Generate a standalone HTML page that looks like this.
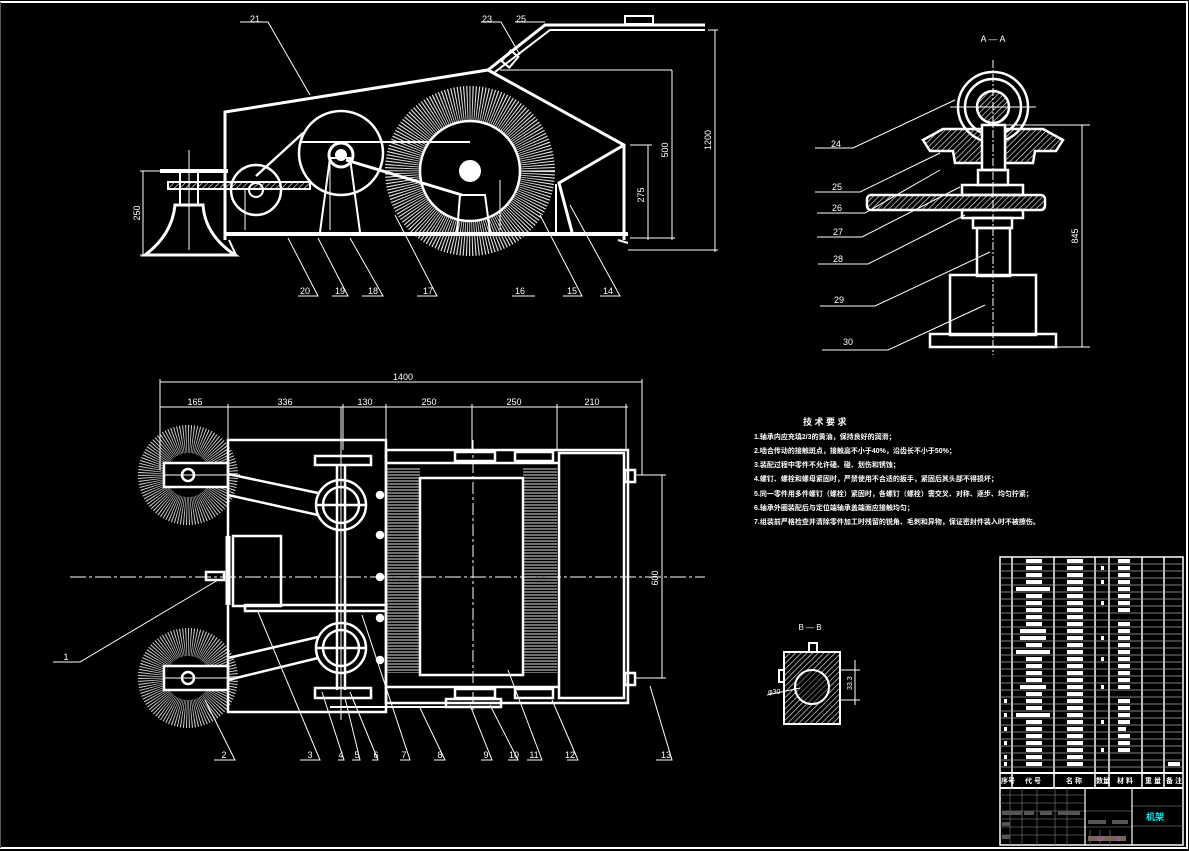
<!DOCTYPE html>
<html><head><meta charset="utf-8"><style>
html,body{margin:0;padding:0;background:#000;width:1189px;height:851px;overflow:hidden}
svg{display:block}
text{font-family:"Liberation Sans","Noto Sans CJK SC",sans-serif;fill:#fff}
</style></head><body>
<svg width="1189" height="851" viewBox="0 0 1189 851" xmlns="http://www.w3.org/2000/svg">
<defs>
<pattern id="hat" width="4" height="4" patternUnits="userSpaceOnUse" patternTransform="rotate(45)"><line x1="0" y1="0" x2="0" y2="4" stroke="#fff" stroke-width="1.2"/></pattern>
<pattern id="hz" width="4" height="3" patternUnits="userSpaceOnUse"><line x1="0" y1="1" x2="4" y2="1" stroke="#ddd" stroke-width="1"/></pattern>
</defs>
<rect width="1189" height="851" fill="#000"/>
<polyline points="0,2 1187,2 1187,848 0,848" fill="none" stroke="#fff" stroke-width="2"/>
<line x1="0.5" y1="2" x2="0.5" y2="848" stroke="#555"/>

<g stroke="#fff" fill="none" stroke-width="2">
<circle cx="470" cy="171" r="68" stroke="#ddd" stroke-width="34" stroke-dasharray="1 1.6"/>
<circle cx="470" cy="171" r="50" stroke-width="2.5"/>
<circle cx="470" cy="171" r="10" fill="#fff"/>
<polyline points="225,240 225,112 488,70 624,145 624,240" stroke-width="3"/>
<line x1="225" y1="234" x2="628" y2="234" stroke-width="4"/>
<polyline points="624,145 559,183 572,232" stroke-width="3"/>
<line x1="556" y1="184" x2="556" y2="232"/>
<line x1="618" y1="240" x2="628" y2="243" />
<circle cx="341" cy="153" r="42" stroke-width="2.5"/>
<circle cx="341" cy="155" r="12" stroke-width="3"/>
<circle cx="341" cy="155" r="5" fill="#fff"/>
<circle cx="256" cy="190" r="25" stroke-width="2.5"/>
<circle cx="256" cy="190" r="7"/>
<line x1="301" y1="142" x2="470" y2="142"/>
<line x1="346" y1="160" x2="462" y2="195" stroke-width="3"/>
<line x1="256" y1="176" x2="303" y2="133" stroke-width="2.5"/>
<polyline points="320,232 330,158 350,158 360,232" />
<polyline points="457,232 460,195 485,195 490,232" stroke-width="2"/>
<rect x="168" y="182" width="142" height="7" fill="url(#hat)"/>
<line x1="160" y1="171" x2="228" y2="171" stroke-width="4"/>
<line x1="189" y1="150" x2="189" y2="250" stroke-width="1"/>
<path d="M175,205 L203,205 Q205,235 235,255 L145,255 Q172,235 175,205 Z" stroke-width="3"/>
<line x1="180" y1="171" x2="180" y2="205"/><line x1="198" y1="171" x2="198" y2="205"/>
<line x1="229" y1="240" x2="236" y2="255"/>
<polyline points="488,70 545,25 705,25" stroke-width="3"/>
<polyline points="495,72 550,30 705,30" stroke-width="2"/>
<rect x="625" y="16" width="28" height="8" stroke-width="2"/>
<rect x="505" y="52" width="10" height="14" transform="rotate(40 510 59)"/>
</g>
<g stroke="#fff" stroke-width="1" fill="none">
<line x1="500" y1="70" x2="672" y2="70"/><line x1="672" y1="70" x2="672" y2="240"/>
<line x1="708" y1="30" x2="718" y2="30"/><line x1="715" y1="30" x2="715" y2="252"/><line x1="628" y1="250" x2="718" y2="250"/>
<line x1="630" y1="145" x2="652" y2="145"/><line x1="648" y1="145" x2="648" y2="240"/><line x1="630" y1="238" x2="675" y2="238"/>
<line x1="143" y1="171" x2="143" y2="255"/><line x1="140" y1="171" x2="165" y2="171"/><line x1="140" y1="255" x2="150" y2="255"/>
<line x1="245" y1="190" x2="245" y2="230"/><line x1="330" y1="160" x2="330" y2="230"/><line x1="500" y1="180" x2="500" y2="230"/>
<polyline points="240,22 268,22 310,95"/>
<polyline points="481,22 501,22 520,55"/>
<line x1="515" y1="22" x2="545" y2="22"/>
<polyline points="298,296 318,296 288,238"/>
<polyline points="332,296 348,296 318,238"/>
<polyline points="362,296 383,296 350,238"/>
<polyline points="417,296 437,296 395,215"/>
<line x1="512" y1="296" x2="535" y2="296"/>
<polyline points="563,296 582,296 540,215"/>
<polyline points="600,296 620,296 570,205"/>
</g>
<g font-size="9" text-anchor="middle">
<text x="255" y="22">21</text><text x="487" y="22">23</text><text x="521" y="22">25</text>
<text x="305" y="294">20</text><text x="340" y="294">19</text><text x="373" y="294">18</text><text x="428" y="294">17</text><text x="520" y="294">16</text><text x="572" y="294">15</text><text x="608" y="294">14</text>
<text x="668" y="150" transform="rotate(-90 668 150)">500</text>
<text x="711" y="140" transform="rotate(-90 711 140)">1200</text>
<text x="644" y="195" transform="rotate(-90 644 195)">275</text>
<text x="140" y="213" transform="rotate(-90 140 213)">250</text>
</g>

<g stroke="#fff" fill="none" stroke-width="2.5">
<text x="993" y="42" font-size="9" text-anchor="middle" stroke="none">A — A</text>
<circle cx="993" cy="107" r="35"/>
<circle cx="993" cy="107" r="28"/>
<circle cx="993" cy="107" r="16" fill="url(#hat)"/>
<polygon points="923,140 943,129 983,129 983,163 955,163 953,151 930,151" fill="url(#hat)"/>
<polygon points="1063,140 1043,129 1005,129 1005,163 1033,163 1035,151 1056,151" fill="url(#hat)"/>
<rect x="982" y="125" width="23" height="45" fill="#000"/>
<rect x="978" y="170" width="30" height="15"/>
<rect x="962" y="185" width="61" height="10"/>
<rect x="867" y="195" width="178" height="15" rx="4" fill="url(#hat)"/>
<rect x="962" y="210" width="61" height="8"/>
<rect x="973" y="218" width="39" height="10"/>
<rect x="977" y="228" width="33" height="48"/>
<rect x="950" y="275" width="86" height="60"/>
<rect x="930" y="334" width="126" height="13"/>
</g>
<g stroke="#fff" stroke-width="1" fill="none">
<line x1="993" y1="60" x2="993" y2="355" stroke-dasharray="8 2 2 2"/>
<line x1="950" y1="107" x2="1036" y2="107"/>
<line x1="1005" y1="125" x2="1090" y2="125"/><line x1="1056" y1="347" x2="1090" y2="347"/><line x1="1082" y1="125" x2="1082" y2="347"/>
<polyline points="815,148 853,148 955,100"/>
<polyline points="815,192 860,192 940,153"/>
<polyline points="817,213 865,213 940,170"/>
<polyline points="817,237 862,237 960,187"/>
<polyline points="818,264 868,264 965,215"/>
<polyline points="820,306 875,306 990,252"/>
<polyline points="822,350 888,350 985,305"/>
</g>
<g font-size="9" text-anchor="middle">
<text x="836" y="147">24</text><text x="837" y="190">25</text><text x="837" y="211">26</text><text x="838" y="235">27</text><text x="838" y="262">28</text><text x="839" y="303">29</text><text x="848" y="345">30</text>
<text x="1078" y="236" transform="rotate(-90 1078 236)">845</text>
</g>

<g stroke="#fff" fill="none" stroke-width="2.5">
<circle cx="188" cy="475" r="36" stroke="#ccc" stroke-width="28" stroke-dasharray="0.8 1.4"/>
<circle cx="188" cy="678" r="36" stroke="#ccc" stroke-width="28" stroke-dasharray="0.8 1.4"/>
<rect x="164" y="463" width="64" height="24" fill="#000"/>
<rect x="164" y="666" width="64" height="24" fill="#000"/>
<circle cx="188" cy="475" r="6"/><circle cx="188" cy="678" r="6"/>
<rect x="228" y="440" width="158" height="272"/>
<rect x="386" y="450" width="242" height="253"/>
<rect x="386" y="467" width="34" height="206" fill="url(#hz)" stroke="none"/>
<rect x="523" y="467" width="34" height="206" fill="url(#hz)" stroke="none"/>
<rect x="420" y="478" width="103" height="197"/>
<rect x="559" y="453" width="65" height="245"/>
<line x1="386" y1="463" x2="559" y2="463"/>
<line x1="386" y1="687" x2="559" y2="687"/>
<rect x="515" y="452" width="38" height="9"/><rect x="515" y="689" width="38" height="9"/>
<rect x="455" y="452" width="40" height="9"/><rect x="455" y="689" width="40" height="9"/>
<rect x="315" y="456" width="56" height="9"/><rect x="315" y="688" width="56" height="10"/>
<rect x="446" y="699" width="55" height="8"/>
<line x1="330" y1="707" x2="446" y2="707" stroke-width="2"/>
<circle cx="341" cy="505" r="25"/><circle cx="341" cy="505" r="18"/>
<circle cx="341" cy="648" r="25"/><circle cx="341" cy="648" r="18"/>
<line x1="337" y1="465" x2="337" y2="690"/><line x1="345" y1="465" x2="345" y2="690"/>
<line x1="316" y1="505" x2="366" y2="505"/><line x1="316" y1="648" x2="366" y2="648"/>
<polyline points="228,474 318,493"/><polyline points="228,495 318,515"/>
<polyline points="228,658 318,637"/><polyline points="228,680 318,658"/>
<rect x="233" y="536" width="48" height="70"/>
<line x1="228" y1="536" x2="228" y2="605" stroke-width="5"/>
<rect x="245" y="605" width="141" height="6"/>
<rect x="206" y="572" width="18" height="8"/>
<circle cx="380" cy="495" r="3" fill="#fff"/><circle cx="380" cy="535" r="3" fill="#fff"/><circle cx="380" cy="577" r="3" fill="#fff"/><circle cx="380" cy="618" r="3" fill="#fff"/><circle cx="380" cy="660" r="3" fill="#fff"/>
<rect x="625" y="470" width="10" height="12"/><rect x="625" y="673" width="10" height="12"/>
</g>
<g stroke="#fff" stroke-width="1" fill="none">
<line x1="70" y1="577" x2="705" y2="577" stroke-dasharray="16 3 3 3"/>
<line x1="473" y1="440" x2="473" y2="712" stroke-dasharray="12 3 3 3"/>
<line x1="341" y1="407" x2="341" y2="720"/>
<line x1="160" y1="382" x2="642" y2="382"/>
<line x1="160" y1="379" x2="160" y2="470"/><line x1="642" y1="379" x2="642" y2="475"/>
<line x1="160" y1="407" x2="628" y2="407"/>
<line x1="228" y1="404" x2="228" y2="440"/><line x1="343" y1="404" x2="343" y2="450"/><line x1="386" y1="404" x2="386" y2="450"/><line x1="472" y1="404" x2="472" y2="450"/><line x1="557" y1="404" x2="557" y2="450"/><line x1="626" y1="404" x2="626" y2="450"/>
<line x1="635" y1="475" x2="666" y2="475"/><line x1="635" y1="678" x2="666" y2="678"/><line x1="662" y1="475" x2="662" y2="678"/>
<line x1="164" y1="475" x2="240" y2="475"/><line x1="164" y1="678" x2="240" y2="678"/>
<polyline points="53,662 80,662 218,580"/>
<polyline points="214,760 235,760 205,700"/>
<polyline points="300,760 320,760 258,612"/>
<polyline points="338,760 344,760 322,692"/>
<polyline points="352,760 360,760 345,698"/>
<polyline points="372,760 378,760 350,692"/>
<polyline points="400,760 410,760 362,615"/>
<polyline points="434,760 445,760 420,708"/>
<polyline points="481,760 492,760 470,705"/>
<polyline points="508,760 518,760 490,705"/>
<polyline points="527,760 542,760 508,670"/>
<polyline points="567,760 578,760 552,700"/>
<polyline points="656,760 672,760 650,686"/>
</g>
<g font-size="9" text-anchor="middle">
<text x="403" y="380">1400</text>
<text x="195" y="405">165</text><text x="285" y="405">336</text><text x="365" y="405">130</text><text x="429" y="405">250</text><text x="514" y="405">250</text><text x="592" y="405">210</text>
<text x="658" y="578" transform="rotate(-90 658 578)">600</text>
<text x="66" y="660">1</text><text x="224" y="758">2</text><text x="310" y="758">3</text><text x="341" y="758">4</text><text x="357" y="758">5</text><text x="376" y="758">6</text><text x="404" y="758">7</text><text x="440" y="758">8</text><text x="486" y="758">9</text><text x="514" y="758">10</text><text x="534" y="758">11</text><text x="570" y="758">12</text><text x="666" y="758">13</text>
</g>

<g font-size="7" font-weight="bold">
<text x="803" y="425" font-size="9">技 术 要 求</text>
<text x="754" y="439">1.轴承内应充填2/3的黄油，保持良好的润滑；</text>
<text x="754" y="453">2.啮合传动的接触斑点，接触高不小于40%，沿齿长不小于50%；</text>
<text x="754" y="467">3.装配过程中零件不允许磕、碰、划伤和锈蚀；</text>
<text x="754" y="481">4.螺钉、螺栓和螺母紧固时，严禁使用不合适的扳手，紧固后其头部不得损坏；</text>
<text x="754" y="496">5.同一零件用多件螺钉（螺栓）紧固时，各螺钉（螺栓）需交叉、对称、逐步、均匀拧紧；</text>
<text x="754" y="510">6.轴承外圈装配后与定位端轴承盖端面应接触均匀；</text>
<text x="754" y="524">7.组装前严格检查并清除零件加工时残留的锐角、毛刺和异物，保证密封件装入时不被擦伤。</text>
</g>

<g stroke="#fff" fill="none" stroke-width="2">
<text x="810" y="630" font-size="8" text-anchor="middle" stroke="none">B — B</text>
<rect x="784" y="652" width="56" height="72" fill="url(#hat)"/>
<circle cx="812" cy="687" r="17" fill="#000"/>
<circle cx="812" cy="687" r="17" fill="url(#hat)" opacity="0.6"/>
<rect x="809" y="643" width="8" height="9"/>
<rect x="779" y="670" width="5" height="12"/>
<line x1="840" y1="670" x2="860" y2="670" stroke-width="1"/><line x1="840" y1="700" x2="860" y2="700" stroke-width="1"/>
<line x1="855" y1="660" x2="855" y2="705" stroke-width="1"/>
<line x1="767" y1="695" x2="800" y2="688" stroke-width="1"/>
</g>
<g font-size="7"><text x="768" y="694">φ30</text><text x="852" y="690" transform="rotate(-90 852 690)">33.3</text></g>

<g stroke="#fff" fill="none" stroke-width="1.5">
<rect x="1000" y="557" width="183" height="288"/>
<line x1="1012" y1="557" x2="1012" y2="788"/>
<line x1="1054" y1="557" x2="1054" y2="788"/>
<line x1="1095" y1="557" x2="1095" y2="788"/>
<line x1="1109" y1="557" x2="1109" y2="788"/>
<line x1="1142" y1="557" x2="1142" y2="788"/>
<line x1="1164" y1="557" x2="1164" y2="788"/>
<line x1="1000" y1="773" x2="1183" y2="773" stroke-width="2"/>
<line x1="1000" y1="788" x2="1183" y2="788" stroke-width="2"/>
</g>
<g stroke="#aaa" stroke-width="0.8">
<line x1="1000" y1="564" x2="1183" y2="564"/><line x1="1000" y1="571" x2="1183" y2="571"/><line x1="1000" y1="578" x2="1183" y2="578"/><line x1="1000" y1="585" x2="1183" y2="585"/><line x1="1000" y1="592" x2="1183" y2="592"/><line x1="1000" y1="599" x2="1183" y2="599"/><line x1="1000" y1="606" x2="1183" y2="606"/><line x1="1000" y1="613" x2="1183" y2="613"/><line x1="1000" y1="620" x2="1183" y2="620"/><line x1="1000" y1="627" x2="1183" y2="627"/><line x1="1000" y1="634" x2="1183" y2="634"/><line x1="1000" y1="641" x2="1183" y2="641"/><line x1="1000" y1="648" x2="1183" y2="648"/><line x1="1000" y1="655" x2="1183" y2="655"/><line x1="1000" y1="662" x2="1183" y2="662"/><line x1="1000" y1="669" x2="1183" y2="669"/><line x1="1000" y1="676" x2="1183" y2="676"/><line x1="1000" y1="683" x2="1183" y2="683"/><line x1="1000" y1="690" x2="1183" y2="690"/><line x1="1000" y1="697" x2="1183" y2="697"/><line x1="1000" y1="704" x2="1183" y2="704"/><line x1="1000" y1="711" x2="1183" y2="711"/><line x1="1000" y1="718" x2="1183" y2="718"/><line x1="1000" y1="725" x2="1183" y2="725"/><line x1="1000" y1="732" x2="1183" y2="732"/><line x1="1000" y1="739" x2="1183" y2="739"/><line x1="1000" y1="746" x2="1183" y2="746"/><line x1="1000" y1="753" x2="1183" y2="753"/><line x1="1000" y1="760" x2="1183" y2="760"/><line x1="1000" y1="767" x2="1183" y2="767"/>
</g>
<g fill="#fff">
<rect x="1026" y="559" width="16" height="4"/><rect x="1067" y="559" width="16" height="4"/><rect x="1118" y="559" width="12" height="4"/>
<rect x="1026" y="566" width="16" height="4"/><rect x="1067" y="566" width="16" height="4"/><rect x="1118" y="566" width="12" height="4"/>
<rect x="1026" y="573" width="16" height="4"/><rect x="1067" y="573" width="16" height="4"/><rect x="1118" y="573" width="12" height="4"/>
<rect x="1026" y="580" width="16" height="4"/><rect x="1067" y="580" width="16" height="4"/><rect x="1118" y="580" width="12" height="4"/>
<rect x="1016" y="587" width="34" height="4"/><rect x="1067" y="587" width="16" height="4"/><rect x="1118" y="587" width="12" height="4"/>
<rect x="1026" y="594" width="16" height="4"/><rect x="1067" y="594" width="16" height="4"/><rect x="1118" y="594" width="12" height="4"/>
<rect x="1026" y="601" width="16" height="4"/><rect x="1067" y="601" width="16" height="4"/><rect x="1118" y="601" width="12" height="4"/>
<rect x="1026" y="608" width="16" height="4"/><rect x="1067" y="608" width="16" height="4"/><rect x="1118" y="608" width="12" height="4"/>
<rect x="1026" y="615" width="16" height="4"/><rect x="1067" y="615" width="16" height="4"/>
<rect x="1026" y="622" width="16" height="4"/><rect x="1067" y="622" width="16" height="4"/><rect x="1118" y="622" width="12" height="4"/>
<rect x="1020" y="629" width="26" height="4"/><rect x="1067" y="629" width="16" height="4"/><rect x="1118" y="629" width="12" height="4"/>
<rect x="1020" y="636" width="26" height="4"/><rect x="1067" y="636" width="16" height="4"/><rect x="1118" y="636" width="12" height="4"/>
<rect x="1026" y="643" width="16" height="4"/><rect x="1067" y="643" width="16" height="4"/><rect x="1118" y="643" width="12" height="4"/>
<rect x="1016" y="650" width="34" height="4"/><rect x="1067" y="650" width="16" height="4"/><rect x="1118" y="650" width="12" height="4"/>
<rect x="1026" y="657" width="16" height="4"/><rect x="1067" y="657" width="16" height="4"/><rect x="1118" y="657" width="12" height="4"/>
<rect x="1026" y="664" width="16" height="4"/><rect x="1067" y="664" width="16" height="4"/><rect x="1118" y="664" width="12" height="4"/>
<rect x="1026" y="671" width="16" height="4"/><rect x="1067" y="671" width="16" height="4"/><rect x="1118" y="671" width="12" height="4"/>
<rect x="1026" y="678" width="16" height="4"/><rect x="1067" y="678" width="16" height="4"/><rect x="1118" y="678" width="12" height="4"/>
<rect x="1020" y="685" width="26" height="4"/><rect x="1067" y="685" width="16" height="4"/><rect x="1118" y="685" width="12" height="4"/>
<rect x="1026" y="692" width="16" height="4"/><rect x="1067" y="692" width="16" height="4"/>
<rect x="1026" y="699" width="16" height="4"/><rect x="1067" y="699" width="16" height="4"/><rect x="1118" y="699" width="12" height="4"/>
<rect x="1026" y="706" width="16" height="4"/><rect x="1067" y="706" width="16" height="4"/><rect x="1118" y="706" width="12" height="4"/>
<rect x="1016" y="713" width="34" height="4"/><rect x="1067" y="713" width="16" height="4"/><rect x="1118" y="713" width="12" height="4"/>
<rect x="1026" y="720" width="16" height="4"/><rect x="1067" y="720" width="16" height="4"/><rect x="1118" y="720" width="12" height="4"/>
<rect x="1026" y="727" width="16" height="4"/><rect x="1067" y="727" width="16" height="4"/><rect x="1118" y="727" width="8" height="4"/>
<rect x="1026" y="734" width="16" height="4"/><rect x="1067" y="734" width="16" height="4"/><rect x="1118" y="734" width="12" height="4"/>
<rect x="1026" y="741" width="16" height="4"/><rect x="1067" y="741" width="16" height="4"/><rect x="1118" y="741" width="12" height="4"/>
<rect x="1026" y="748" width="16" height="4"/><rect x="1067" y="748" width="16" height="4"/><rect x="1118" y="748" width="12" height="4"/>
<rect x="1026" y="755" width="16" height="4"/><rect x="1067" y="755" width="16" height="4"/>
<rect x="1026" y="762" width="16" height="4"/><rect x="1067" y="762" width="16" height="4"/><rect x="1168" y="762" width="12" height="4"/>
<rect x="1004" y="727" width="3" height="4"/><rect x="1004" y="741" width="3" height="4"/><rect x="1004" y="755" width="3" height="4"/><rect x="1004" y="762" width="3" height="4"/><rect x="1004" y="713" width="3" height="4"/><rect x="1004" y="699" width="3" height="4"/>
<rect x="1101" y="566" width="3" height="4"/><rect x="1101" y="580" width="3" height="4"/><rect x="1101" y="601" width="3" height="4"/><rect x="1101" y="636" width="3" height="4"/><rect x="1101" y="657" width="3" height="4"/><rect x="1101" y="685" width="3" height="4"/><rect x="1101" y="720" width="3" height="4"/><rect x="1101" y="748" width="3" height="4"/>
</g>
<g font-size="7" font-weight="bold">
<text x="1001" y="783">序号</text><text x="1025" y="783">代 号</text><text x="1066" y="783">名 称</text><text x="1096" y="783">数量</text><text x="1117" y="783">材 料</text><text x="1145" y="783">重 量</text><text x="1166" y="783">备 注</text>
</g>
<g stroke="#666" stroke-width="0.8" fill="none">
<line x1="1000" y1="795" x2="1085" y2="795"/><line x1="1000" y1="803" x2="1085" y2="803"/><line x1="1000" y1="811" x2="1132" y2="811"/><line x1="1000" y1="819" x2="1085" y2="819"/><line x1="1000" y1="827" x2="1132" y2="827"/><line x1="1000" y1="835" x2="1085" y2="835"/>
<line x1="1010" y1="788" x2="1010" y2="845"/><line x1="1022" y1="788" x2="1022" y2="845"/><line x1="1037" y1="788" x2="1037" y2="845"/><line x1="1055" y1="788" x2="1055" y2="845"/><line x1="1067" y1="788" x2="1067" y2="845"/>
<line x1="1132" y1="806" x2="1183" y2="806"/><line x1="1132" y1="826" x2="1183" y2="826"/>
<line x1="1090" y1="830" x2="1090" y2="845"/><line x1="1100" y1="830" x2="1100" y2="845"/><line x1="1110" y1="830" x2="1110" y2="845"/>
</g>
<g stroke="#fff" stroke-width="1.2" fill="none">
<line x1="1085" y1="788" x2="1085" y2="845"/><line x1="1132" y1="788" x2="1132" y2="845"/>
</g>
<g fill="#555">
<rect x="1002" y="811" width="20" height="4"/><rect x="1024" y="811" width="10" height="4"/><rect x="1040" y="811" width="12" height="4"/><rect x="1058" y="811" width="22" height="4"/>
<rect x="1088" y="820" width="18" height="4"/><rect x="1112" y="820" width="16" height="4"/><rect x="1002" y="822" width="8" height="4"/><rect x="1002" y="835" width="8" height="4"/>
<rect x="1088" y="836" width="38" height="5" fill="#765"/>
</g>
<text x="1155" y="820" font-size="9" font-weight="bold" text-anchor="middle" style="fill:#0ee">机架</text>
<text x="1097" y="841" font-size="6" style="fill:#d6f">17</text><text x="1117" y="841" font-size="6" style="fill:#d6f">1</text>
</svg>
</body></html>
